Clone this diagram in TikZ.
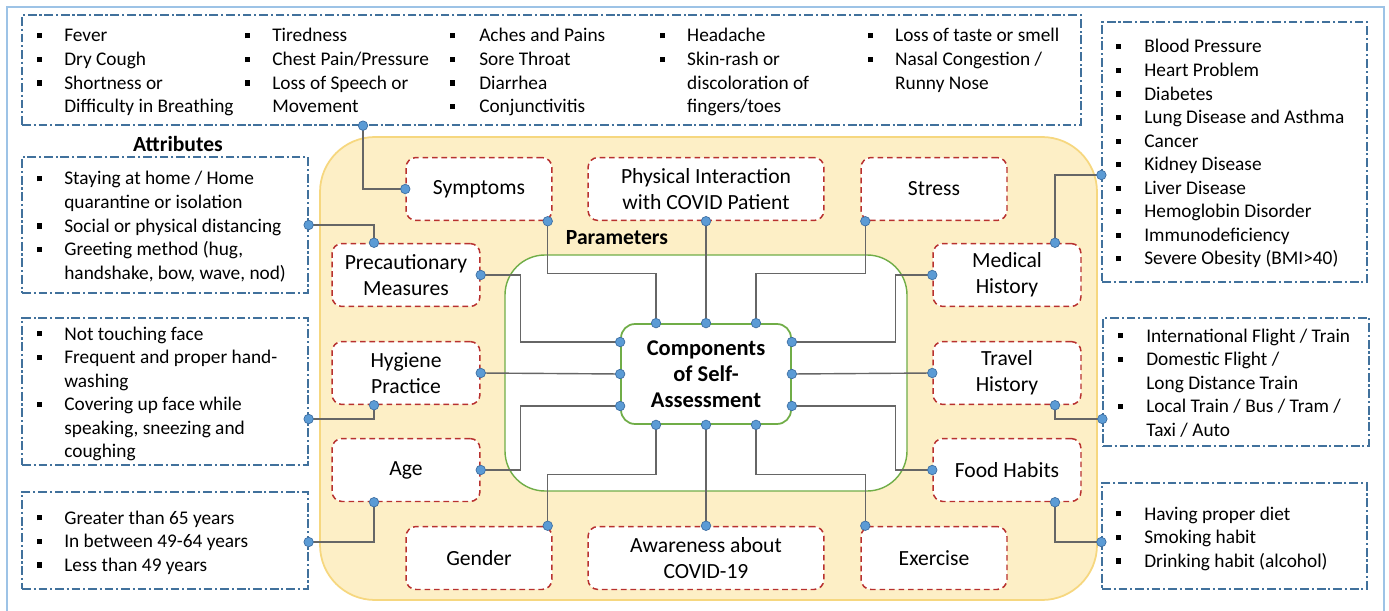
\documentclass[tikz,border=0pt]{standalone}
\usepackage{fontspec}
\setmainfont{Carlito}
\usetikzlibrary{positioning}
\definecolor{frameblue}{HTML}{9DC3E6}
\definecolor{attblue}{HTML}{41719C}
\definecolor{parred}{HTML}{B8312F}
\definecolor{yelfill}{HTML}{FDEFC6}
\definecolor{yeledge}{HTML}{F6D77F}
\definecolor{grn}{HTML}{70AD47}
\definecolor{conngray}{HTML}{666666}
\definecolor{dotblue}{HTML}{5B9BD5}
\definecolor{dotedge}{HTML}{3E6FA3}
\newcommand{\bul}{\rule[2pt]{2.9pt}{2.9pt}}

\begin{document}
\begin{tikzpicture}[x=0.02cm, y=-0.02cm,
    attbox/.style={draw=attblue, line width=0.75pt, dash pattern=on 5pt off 1.6pt on 1.2pt off 1.6pt, inner sep=0pt},
    parambox/.style={draw=parred, line width=0.85pt, dash pattern=on 3.2pt off 2.2pt, rounded corners=0.2cm, fill=white, align=center, minimum height=1.26cm, inner sep=1pt, font=\fontsize{12.3}{14.7}\selectfont},
    itemlist/.style={anchor=base west, inner sep=0pt, font=\fontsize{11}{13.4}\selectfont},
    conn/.style={draw=conngray, line width=0.8pt},
    bluedot/.style={fill=dotblue, draw=dotedge, line width=0.4pt}]
  \useasboundingbox (0,0) rectangle (1389,611);
  \draw[frameblue, line width=1pt] (7,611) -- (7,7) -- (1384,7) -- (1384,611);

  % parameter area
  \draw[yeledge, fill=yelfill, line width=1pt, rounded corners=1.1cm] (320,137) rectangle (1097,600);
  \draw[grn, fill=white, line width=0.8pt, rounded corners=0.8cm] (505,255) rectangle (907,491);
  \node[font=\bfseries\fontsize{12.3}{14.7}\selectfont] (partitle) at (617,238) {Parameters};
  \node[font=\bfseries\fontsize{12.3}{14.7}\selectfont] (atttitle) at (178,144) {Attributes};

  % attribute boxes
  \node[attbox, minimum width=21.18cm, minimum height=2.2cm] (sa) at (551.5,70) {};
  \node[attbox, minimum width=5.72cm, minimum height=2.72cm] (pa) at (165,225) {};
  \node[attbox, minimum width=5.72cm, minimum height=2.94cm] (ha) at (165,391.5) {};
  \node[attbox, minimum width=5.72cm, minimum height=1.94cm] (aa) at (165,540.5) {};
  \node[attbox, minimum width=5.3cm, minimum height=5.2cm] (ma) at (1234.5,152) {};
  \node[attbox, minimum width=5.32cm, minimum height=2.56cm] (ta) at (1236,382) {};
  \node[attbox, minimum width=5.3cm, minimum height=2.12cm] (fa) at (1234.5,536) {};

  \node[itemlist] (salist) at (37,42) {\begin{tabular}[t]{@{}p{0.54cm}@{}p{3.62cm}@{}p{0.54cm}@{}p{3.56cm}@{}p{0.58cm}@{}p{3.62cm}@{}p{0.54cm}@{}p{3.62cm}@{}p{0.54cm}@{}l@{}}
    \bul & Fever & \bul & Tiredness & \bul & Aches and Pains & \bul & Headache & \bul & Loss of taste or smell\\
    \bul & Dry Cough & \bul & Chest Pain/Pressure & \bul & Sore Throat & \bul & Skin-rash or & \bul & Nasal Congestion /\\
    \bul & Shortness or & \bul & Loss of Speech or & \bul & Diarrhea & & discoloration of & & Runny Nose\\
     & Difficulty in Breathing & & Movement & \bul & Conjunctivitis & & fingers/toes & &
  \end{tabular}};
  \node[itemlist] (palist) at (37,185) {\begin{tabular}[t]{@{}p{0.54cm}@{}l@{}}
    \bul & Staying at home / Home\\
     & quarantine or isolation\\
    \bul & Social or physical distancing\\
    \bul & Greeting method (hug,\\
     & handshake, bow, wave, nod)
  \end{tabular}};
  \node[itemlist] (halist) at (37,340) {\begin{tabular}[t]{@{}p{0.54cm}@{}l@{}}
    \bul & Not touching face\\
    \bul & Frequent and proper hand-\\
     & washing\\
    \bul & Covering up face while\\
     & speaking, sneezing and\\
     & coughing
  \end{tabular}};
  \node[itemlist] (aalist) at (37,524) {\begin{tabular}[t]{@{}p{0.54cm}@{}l@{}}
    \bul & Greater than 65 years\\
    \bul & In between 49-64 years\\
    \bul & Less than 49 years
  \end{tabular}};
  \node[itemlist] (malist) at (1116,53) {\begin{tabular}[t]{@{}p{0.56cm}@{}l@{}}
    \bul & Blood Pressure\\
    \bul & Heart Problem\\
    \bul & Diabetes\\
    \bul & Lung Disease and Asthma\\
    \bul & Cancer\\
    \bul & Kidney Disease\\
    \bul & Liver Disease\\
    \bul & Hemoglobin Disorder\\
    \bul & Immunodeficiency\\
    \bul & Severe Obesity (BMI>40)
  \end{tabular}};
  \node[itemlist] (talist) at (1118,342) {\begin{tabular}[t]{@{}p{0.56cm}@{}l@{}}
    \bul & International Flight / Train\\
    \bul & Domestic Flight /\\
     & Long Distance Train\\
    \bul & Local Train / Bus / Tram /\\
     & Taxi / Auto
  \end{tabular}};
  \node[itemlist] (falist) at (1116,520) {\begin{tabular}[t]{@{}p{0.56cm}@{}l@{}}
    \bul & Having proper diet\\
    \bul & Smoking habit\\
    \bul & Drinking habit (alcohol)
  \end{tabular}};

  % parameter boxes
  \node[parambox, minimum width=2.92cm] (sy) at (479,189) {Symptoms};
  \node[parambox, minimum width=4.72cm] (ph) at (706,189) {Physical Interaction\\with COVID Patient};
  \node[parambox, minimum width=2.92cm] (st) at (934,189) {Stress};
  \node[parambox, minimum width=2.96cm] (pr) at (406,275) {Precautionary\\Measures};
  \node[parambox, minimum width=2.96cm] (hy) at (406,373) {Hygiene\\Practice};
  \node[parambox, minimum width=2.96cm] (ag) at (406,470) {Age};
  \node[parambox, minimum width=2.96cm] (me) at (1007,275) {Medical\\History};
  \node[parambox, minimum width=2.96cm] (tr) at (1007,373) {Travel\\History};
  \node[parambox, minimum width=2.96cm] (fo) at (1007,470) {Food Habits};
  \node[parambox, minimum width=2.92cm] (ge) at (479,558) {Gender};
  \node[parambox, minimum width=4.72cm] (aw) at (706,558) {Awareness about\\COVID-19};
  \node[parambox, minimum width=2.92cm] (ex) at (934,558) {Exercise};

  \node[draw=grn, line width=1pt, fill=white, rounded corners=0.28cm, align=center,
        minimum width=3.4cm, minimum height=2cm,
        font=\bfseries\fontsize{12.8}{14.8}\selectfont] (comp) at (706,374) {Components\\of Self-\\Assessment};

  % connection points
  \coordinate (c-t1) at ([xshift=-1cm]comp.north);
  \coordinate (c-t2) at (comp.north);
  \coordinate (c-t3) at ([xshift=1cm]comp.north);
  \coordinate (c-b1) at ([xshift=-1cm]comp.south);
  \coordinate (c-b2) at (comp.south);
  \coordinate (c-b3) at ([xshift=1cm]comp.south);
  \coordinate (c-l1) at ([yshift=0.64cm]comp.west);
  \coordinate (c-l2) at (comp.west);
  \coordinate (c-l3) at ([yshift=-0.64cm]comp.west);
  \coordinate (c-r1) at ([yshift=0.64cm]comp.east);
  \coordinate (c-r2) at (comp.east);
  \coordinate (c-r3) at ([yshift=-0.64cm]comp.east);
  \coordinate (d-syw) at (sy.west);
  \coordinate (d-sys) at ([xshift=-0.1cm]sy.south east);
  \coordinate (d-phs) at (ph.south);
  \coordinate (d-sts) at ([xshift=0.1cm]st.south west);
  \coordinate (d-prn) at ([xshift=-0.64cm]pr.north);
  \coordinate (d-pre) at (pr.east);
  \coordinate (d-hys) at ([xshift=-0.64cm]hy.south);
  \coordinate (d-hye) at (hy.east);
  \coordinate (d-ags) at ([xshift=-0.64cm]ag.south);
  \coordinate (d-age) at (ag.east);
  \coordinate (d-men) at ([xshift=0.96cm]me.north);
  \coordinate (d-mew) at (me.west);
  \coordinate (d-trs) at ([xshift=0.96cm]tr.south);
  \coordinate (d-trw) at (tr.west);
  \coordinate (d-fos) at ([xshift=0.96cm]fo.south);
  \coordinate (d-fow) at (fo.west);
  \coordinate (d-gen) at ([xshift=-0.1cm]ge.north east);
  \coordinate (d-awn) at (aw.north);
  \coordinate (d-exn) at ([xshift=0.1cm]ex.north west);
  \coordinate (d-sa) at (sa.south -| 363,0);
  \coordinate (d-pa) at (pa.east);
  \coordinate (d-ha) at (ha.east |- 0,419);
  \coordinate (d-aa) at (aa.east |- 0,542);
  \coordinate (d-ma) at (ma.west |- 0,175);
  \coordinate (d-ta) at (ta.west |- 0,419);
  \coordinate (d-fa) at (fa.west |- 0,542);

  % attributes to parameters
  \draw[conn] (d-sa) |- (d-syw);
  \draw[conn] (d-pa) -| (d-prn);
  \draw[conn] (d-ha) -| (d-hys);
  \draw[conn] (d-aa) -| (d-ags);
  \draw[conn] (d-ma) -| (d-men);
  \draw[conn] (d-trs) |- (d-ta);
  \draw[conn] (d-fos) |- (d-fa);

  % parameters to components
  \draw[conn] (d-sys) -- ++(0,52) -| (c-t1);
  \draw[conn] (d-phs) -- (c-t2);
  \draw[conn] (d-sts) -- ++(0,52) -| (c-t3);
  \draw[conn] (d-pre) -- ++(40,0) |- (c-l1);
  \draw[conn] (d-hye) -- (c-l2);
  \draw[conn] (d-age) -- ++(40,0) |- (c-l3);
  \draw[conn] (d-mew) -- ++(-37,0) |- (c-r1);
  \draw[conn] (d-trw) -- (c-r2);
  \draw[conn] (d-fow) -- ++(-37,0) |- (c-r3);
  \draw[conn] (d-gen) -- ++(0,-51) -| (c-b1);
  \draw[conn] (d-awn) -- (c-b2);
  \draw[conn] (d-exn) -- ++(0,-51) -| (c-b3);

  \foreach \p in {c-t1,c-t2,c-t3,c-b1,c-b2,c-b3,c-l1,c-l2,c-l3,c-r1,c-r2,c-r3,
                  d-syw,d-sys,d-phs,d-sts,d-prn,d-pre,d-hys,d-hye,d-ags,d-age,
                  d-men,d-mew,d-trs,d-trw,d-fos,d-fow,d-gen,d-awn,d-exn,
                  d-sa,d-pa,d-ha,d-aa,d-ma,d-ta,d-fa}
    \draw[bluedot] (\p) circle (0.095cm);
\end{tikzpicture}
\end{document}
